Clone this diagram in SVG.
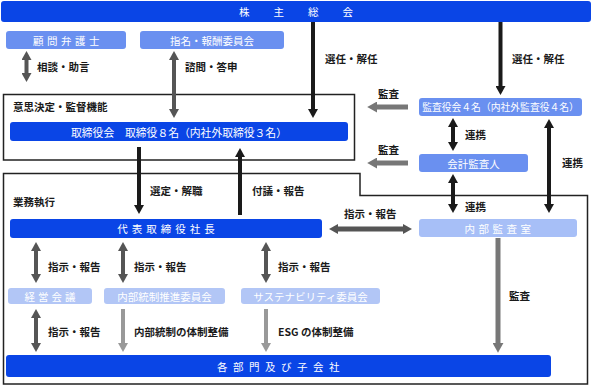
<svg xmlns="http://www.w3.org/2000/svg" width="592" height="386" viewBox="0 0 592 386">
<style>
text{font-family:"Noto Sans CJK JP","Noto Sans",sans-serif;dominant-baseline:central}
.lbl{font-size:10.5px;font-weight:700;fill:#1a1a1a}
.wt{fill:#fff;font-size:10.5px;text-anchor:middle}
.dk{fill:#0a45e6}
.md{fill:#6a90f0}
.lt{fill:#a7bff7}
.xl{fill:#b2c6f6}
.frame{fill:none;stroke:#222;stroke-width:1.5}
.a-k{stroke:#1a1a1a;stroke-width:4;fill:none}
.a-d{stroke:#555;stroke-width:4;fill:none}
.a-m{stroke:#777;stroke-width:5;fill:none}
.a-l{stroke:#999;stroke-width:4;fill:none}
</style>
<defs>
<marker id="hk" markerUnits="userSpaceOnUse" markerWidth="10" markerHeight="10" viewBox="0 0 10 10" refX="1" refY="5" orient="auto-start-reverse"><path d="M0,0 L9,5 L0,10 z" fill="#1a1a1a"/></marker>
<marker id="hd" markerUnits="userSpaceOnUse" markerWidth="10" markerHeight="10" viewBox="0 0 10 10" refX="1" refY="5" orient="auto-start-reverse"><path d="M0,0 L9,5 L0,10 z" fill="#555"/></marker>
<marker id="hm" markerUnits="userSpaceOnUse" markerWidth="11" markerHeight="11" viewBox="0 0 10 10" refX="1" refY="5" orient="auto-start-reverse"><path d="M0,0 L9,5 L0,10 z" fill="#777"/></marker>
<marker id="hl" markerUnits="userSpaceOnUse" markerWidth="10" markerHeight="10" viewBox="0 0 10 10" refX="1" refY="5" orient="auto-start-reverse"><path d="M0,0 L9,5 L0,10 z" fill="#999"/></marker>
</defs>
<rect x="0" y="0" width="592" height="386" fill="#fff"/>

<g id="frames">
<rect class="frame" x="3.5" y="94.5" width="351" height="65.5"/>
<polygon class="frame" points="3.5,173.5 360,173.5 360,195.5 587.5,195.5 587.5,384 3.5,384"/>
<text class="lbl" x="13" y="106">意思決定・監督機能</text>
<text class="lbl" x="13" y="201">業務執行</text>
</g>

<g id="connectors">
<line class="a-d" x1="26.5" y1="59" x2="26.5" y2="74" marker-start="url(#hd)" marker-end="url(#hd)"/>
<line class="a-d" x1="174" y1="59" x2="174" y2="110" marker-start="url(#hd)" marker-end="url(#hd)"/>
<line class="a-k" x1="313" y1="22" x2="313" y2="110" marker-end="url(#hk)"/>
<line class="a-k" x1="500.5" y1="22" x2="500.5" y2="87" marker-end="url(#hk)"/>
<line class="a-m" x1="408" y1="107" x2="376" y2="107" marker-end="url(#hm)"/>
<line class="a-k" x1="453" y1="126" x2="453" y2="143" marker-start="url(#hk)" marker-end="url(#hk)"/>
<line class="a-m" x1="408" y1="163" x2="376" y2="163" marker-end="url(#hm)"/>
<line class="a-k" x1="549" y1="127" x2="549" y2="205" marker-start="url(#hk)" marker-end="url(#hk)"/>
<line class="a-k" x1="453" y1="182" x2="453" y2="205" marker-start="url(#hk)" marker-end="url(#hk)"/>
<line class="a-k" x1="139" y1="147" x2="139" y2="206" marker-end="url(#hk)"/>
<line class="a-k" x1="240" y1="215" x2="240" y2="156" marker-end="url(#hk)"/>
<line class="a-d" x1="337" y1="229" x2="404" y2="229" marker-start="url(#hd)" marker-end="url(#hd)" style="stroke-width:5"/>
<line class="a-m" x1="498" y1="238" x2="498" y2="344" marker-end="url(#hm)"/>
<line class="a-d" x1="36" y1="250" x2="36" y2="275" marker-start="url(#hd)" marker-end="url(#hd)"/>
<line class="a-d" x1="123" y1="250" x2="123" y2="275" marker-start="url(#hd)" marker-end="url(#hd)"/>
<line class="a-d" x1="266" y1="250" x2="266" y2="275" marker-start="url(#hd)" marker-end="url(#hd)"/>
<line class="a-d" x1="36" y1="317" x2="36" y2="344" marker-start="url(#hd)" marker-end="url(#hd)"/>
<line class="a-l" x1="123" y1="309" x2="123" y2="344" marker-end="url(#hl)"/>
<line class="a-l" x1="266" y1="309" x2="266" y2="344" marker-end="url(#hl)"/>
<text class="lbl" x="37" y="66">相談・助言</text>
<text class="lbl" x="185" y="66">諮問・答申</text>
<text class="lbl" x="325" y="58">選任・解任</text>
<text class="lbl" x="512" y="58">選任・解任</text>
<text class="lbl" x="378" y="93">監査</text>
<text class="lbl" x="465" y="134">連携</text>
<text class="lbl" x="378" y="149">監査</text>
<text class="lbl" x="562" y="162">連携</text>
<text class="lbl" x="465" y="206">連携</text>
<text class="lbl" x="150" y="190">選定・解職</text>
<text class="lbl" x="252" y="190">付議・報告</text>
<text class="lbl" x="344" y="213">指示・報告</text>
<text class="lbl" x="48" y="266">指示・報告</text>
<text class="lbl" x="134" y="266">指示・報告</text>
<text class="lbl" x="278" y="266">指示・報告</text>
<text class="lbl" x="48" y="331">指示・報告</text>
<text class="lbl" x="134" y="331">内部統制の体制整備</text>
<text class="lbl" x="278" y="331">ESG の体制整備</text>
<text class="lbl" x="509" y="295">監査</text>
</g>

<g id="shareholders">
<rect class="dk" x="1" y="1" width="590" height="21" rx="3"/>
<text class="wt" x="308" y="11.5" style="letter-spacing:24px">株主総会</text>
</g>
<g id="advisor">
<rect class="md" x="6" y="31" width="120" height="18" rx="3"/>
<text class="wt" x="68" y="40" style="letter-spacing:3.5px">顧問弁護士</text>
</g>
<g id="nomination">
<rect class="md" x="140" y="31" width="144" height="18" rx="3"/>
<text class="wt" x="212" y="40">指名・報酬委員会</text>
</g>
<g id="board">
<rect class="dk" x="10" y="122" width="338" height="19" rx="3"/>
<text class="wt" x="179" y="131.5" style="font-size:10.8px">取締役会　取締役８名（内社外取締役３名）</text>
</g>
<g id="auditboard">
<rect class="md" x="419" y="98" width="163" height="18" rx="3"/>
<text class="wt" x="500.5" y="107" style="font-size:9.8px">監査役会４名（内社外監査役４名）</text>
</g>
<g id="accountant">
<rect class="md" x="419" y="154" width="109" height="18" rx="3"/>
<text class="wt" x="473.5" y="163">会計監査人</text>
</g>
<g id="president">
<rect class="dk" x="10" y="219" width="312" height="19" rx="3"/>
<text class="wt" x="168" y="228.5" style="letter-spacing:4px">代表取締役社長</text>
</g>
<g id="internalaudit">
<rect class="lt" x="419" y="219" width="158" height="18" rx="3"/>
<text class="wt" x="499.5" y="228" style="letter-spacing:3.5px">内部監査室</text>
</g>
<g id="mgmtmeeting">
<rect class="xl" x="8" y="288" width="84" height="16" rx="3"/>
<text class="wt" x="51.5" y="296" style="letter-spacing:3px">経営会議</text>
</g>
<g id="icc">
<rect class="xl" x="104" y="288" width="121" height="16" rx="3"/>
<text class="wt" x="164.5" y="296">内部統制推進委員会</text>
</g>
<g id="sustain">
<rect class="xl" x="241" y="288" width="139" height="16" rx="3"/>
<text class="wt" x="310.5" y="296">サステナビリティ委員会</text>
</g>
<g id="departments">
<rect class="dk" x="6" y="355" width="545" height="22" rx="3"/>
<text class="wt" x="281" y="366" style="letter-spacing:5.5px">各部門及び子会社</text>
</g>
</svg>
